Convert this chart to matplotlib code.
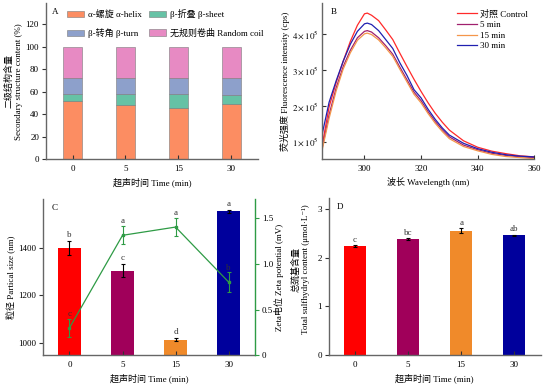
import numpy as np
import matplotlib
matplotlib.use("Agg")
import matplotlib.pyplot as plt

plt.rcParams['font.family'] = ['Liberation Serif', 'Noto Sans CJK SC', 'DejaVu Serif']
plt.rcParams['mathtext.fontset'] = 'stix'
plt.rcParams['font.size'] = 6.5

# ---------------- data ----------------
times = ['0', '5', '15', '30']

# A: secondary structure (%)
helix = [52.0, 48.5, 46.0, 49.5]
sheet = [6.5, 9.5, 12.0, 8.0]
turn = [13.5, 14.5, 14.5, 14.5]
coil = [28.0, 27.5, 27.5, 28.0]

# B: fluorescence spectra (x1e5 cps)
wl = [285, 287.5, 290, 292.5, 295, 297.5, 300, 301, 302.5, 305, 307.5, 310,
      312.5, 315, 317.5, 320, 322.5, 325, 327.5, 330, 335, 340, 345, 350, 355, 360]
fl_control = [0.88, 1.97, 2.65, 3.25, 3.80, 4.25, 4.57, 4.59, 4.53, 4.38, 4.12, 3.85,
              3.47, 3.10, 2.74, 2.40, 2.08, 1.79, 1.54, 1.32, 1.02, 0.84, 0.73, 0.66, 0.60, 0.57]
fl_5 = [0.80, 1.75, 2.50, 3.10, 3.55, 3.90, 4.08, 4.10, 4.06, 3.90, 3.68, 3.44,
        3.08, 2.73, 2.38, 2.14, 1.83, 1.56, 1.33, 1.13, 0.90, 0.77, 0.67, 0.61, 0.57, 0.55]
fl_15 = [0.75, 1.65, 2.42, 3.03, 3.48, 3.83, 4.01, 4.03, 3.99, 3.84, 3.62, 3.38,
         3.02, 2.67, 2.32, 2.08, 1.78, 1.51, 1.28, 1.08, 0.86, 0.74, 0.64, 0.58, 0.55, 0.52]
fl_30 = [1.19, 2.10, 2.70, 3.25, 3.72, 4.08, 4.29, 4.31, 4.27, 4.10, 3.85, 3.60,
         3.20, 2.85, 2.45, 2.22, 1.90, 1.62, 1.38, 1.18, 0.95, 0.80, 0.70, 0.63, 0.59, 0.57]

# C: particle size (nm) and zeta potential (mV)
size = [1397, 1303, 1015, 1552]
size_err = [30, 28, 7, 6]
size_sig = ['b', 'c', 'd', 'a']
zeta = [0.30, 1.31, 1.40, 0.80]
zeta_err = [0.10, 0.10, 0.10, 0.105]
zeta_sig = ['c', 'a', 'a', 'b']

# D: total sulfhydryl content
sh = [2.236, 2.37, 2.55, 2.454]
sh_err = [0.012, 0.02, 0.055, 0.012]
sh_sig = ['c', 'bc', 'a', 'ab']

bar_colors = ['#FF0000', '#A0005A', '#F08A2A', '#00009C']
spine_c = '#666666'

fig = plt.figure(figsize=(5.44, 3.85), dpi=100)
x = np.arange(len(times))


def style(ax, ytick_dir='out'):
    for s in ['top', 'right']:
        ax.spines[s].set_visible(False)
    for s in ['left', 'bottom']:
        ax.spines[s].set_color(spine_c)
        ax.spines[s].set_linewidth(1.0)
    ax.tick_params(axis='x', direction='in', length=3, width=0.8, color='#333333', pad=4)
    ax.tick_params(axis='y', direction=ytick_dir, length=3, width=0.8, color='#333333', pad=2)


# ---------------- A ----------------
axA = fig.add_axes([0.0846, 0.586, 0.3894, 0.406])
w = 0.35
ec = '#7a7a7a'
hA1 = axA.bar(x, helix, w, color='#FC8D62', edgecolor=ec, linewidth=0.4, label='α-螺旋 α-helix')
b1 = np.array(helix)
hA2 = axA.bar(x, sheet, w, bottom=b1, color='#66C2A5', edgecolor=ec, linewidth=0.4, label='β-折叠 β-sheet')
b2 = b1 + np.array(sheet)
hA3 = axA.bar(x, turn, w, bottom=b2, color='#8DA0CB', edgecolor=ec, linewidth=0.4, label='β-转角 β-turn')
b3 = b2 + np.array(turn)
hA4 = axA.bar(x, coil, w, bottom=b3, color='#E78AC3', edgecolor=ec, linewidth=0.4, label='无规则卷曲 Random coil')
axA.set_xlim(-0.5, 3.5)
axA.set_ylim(0, 139)
axA.set_xticks(x)
axA.set_xticklabels(times)
axA.set_yticks(np.arange(0, 121, 20))
style(axA)
axA.set_xlabel('超声时间 Time (min)', labelpad=3)
axA.set_ylabel('二级结构含量\nSecondary structure content (%)', labelpad=2, linespacing=1.2)
axA.text(0.03, 0.93, 'A', transform=axA.transAxes, fontsize=6.5)
# column-wise fill: helix/turn in first column, sheet/coil in second
handles = [hA1, hA3, hA2, hA4]
axA.legend(handles, [h.get_label() for h in handles], loc='upper left',
           bbox_to_anchor=(0.07, 1.0), ncol=2, frameon=False,
           handlelength=1.9, handleheight=0.7, handletextpad=0.4, columnspacing=0.8,
           labelspacing=1.0, fontsize=6.5, borderaxespad=0.3)

# ---------------- B ----------------
axB = fig.add_axes([0.592, 0.586, 0.390, 0.406])
scale = 1e5
axB.plot(wl, np.array(fl_control) * scale, color='#FF2A2A', lw=0.9, label='对照 Control')
axB.plot(wl, np.array(fl_5) * scale, color='#A0206E', lw=0.9, label='5 min')
axB.plot(wl, np.array(fl_15) * scale, color='#F4964A', lw=0.9, label='15 min')
axB.plot(wl, np.array(fl_30) * scale, color='#2020B0', lw=0.9, label='30 min')
axB.set_xlim(285, 360)
axB.set_ylim(0.5e5, 4.87e5)
axB.set_xticks([300, 320, 340, 360])
yt = [1e5, 2e5, 3e5, 4e5]
axB.set_yticks(yt)
axB.set_yticklabels([r'$%d\times10^{5}$' % int(v / 1e5) for v in yt])
style(axB, 'in')
axB.set_xlabel('波长 Wavelength (nm)', labelpad=3)
axB.set_ylabel('荧光强度 Fluorescence intensity (cps)', labelpad=2)
axB.text(0.04, 0.93, 'B', transform=axB.transAxes, fontsize=6.5)
axB.legend(loc='upper right', bbox_to_anchor=(1.0, 1.0), frameon=False, handlelength=2.2,
           handletextpad=0.3, labelspacing=0.25, fontsize=6.5, borderaxespad=0.3)

# ---------------- C ----------------
axC = fig.add_axes([0.079, 0.077, 0.390, 0.407])
wb = 0.42
axC.bar(x, size, wb, color=bar_colors, yerr=size_err, capsize=1.5,
        error_kw=dict(elinewidth=0.8, capthick=0.8, ecolor='black'))
for xi, v, e, s in zip(x, size, size_err, size_sig):
    axC.annotate(s, (xi, v + e), xytext=(0, 1.5), textcoords='offset points',
                 ha='center', va='bottom', fontsize=6.5, color='#333333')
axC.set_xlim(-0.5, 3.5)
axC.set_ylim(950, 1604)
axC.set_xticks(x)
axC.set_xticklabels(times)
axC.set_yticks([1000, 1200, 1400])
style(axC)
axC.set_xlabel('超声时间 Time (min)', labelpad=3)
axC.set_ylabel('粒径 Partical size (nm)', labelpad=2)
axC.text(0.04, 0.93, 'C', transform=axC.transAxes, fontsize=6.5)

green = '#2E9B45'
axC2 = axC.twinx()
axC2.errorbar(x, zeta, yerr=zeta_err, color=green, lw=0.9, marker='s', ms=2,
              capsize=1.5, elinewidth=0.8, capthick=0.8)
for xi, v, e, s in zip(x, zeta, zeta_err, zeta_sig):
    axC2.annotate(s, (xi, v + e), xytext=(0, 0.5), textcoords='offset points',
                  ha='center', va='bottom', fontsize=6.5, color='#333333')
axC2.set_ylim(0, 1.71)
axC2.set_yticks([0, 0.5, 1.0, 1.5])
axC2.set_yticklabels(['0', '0.5', '1.0', '1.5'])
for s in ['top', 'left', 'bottom']:
    axC2.spines[s].set_visible(False)
axC2.spines['right'].set_color(green)
axC2.spines['right'].set_linewidth(1.0)
axC2.tick_params(axis='y', direction='out', length=3, width=0.8, color=green, pad=2)
fig.text(279 / 544, 0.28, 'Zeta电位 Zeta potential (mV)', rotation=90,
         ha='center', va='center', fontsize=6.5)

# ---------------- D ----------------
axD = fig.add_axes([0.604, 0.077, 0.390, 0.409])
axD.bar(x, sh, wb, color=bar_colors, yerr=sh_err, capsize=1.5,
        error_kw=dict(elinewidth=0.8, capthick=0.8, ecolor='black'))
for xi, v, e, s in zip(x, sh, sh_err, sh_sig):
    axD.annotate(s, (xi, v + e), xytext=(0, 1), textcoords='offset points',
                 ha='center', va='bottom', fontsize=6.5, color='#333333')
axD.set_xlim(-0.5, 3.5)
axD.set_ylim(0, 3.22)
axD.set_xticks(x)
axD.set_xticklabels(times)
axD.set_yticks([0, 1, 2, 3])
style(axD)
axD.set_xlabel('超声时间 Time (min)', labelpad=3)
fig.text(301 / 544, 0.30, '总巯基含量\nTotal sulfhydryl content (μmol·L⁻¹)', rotation=90,
         ha='center', va='center', fontsize=6.5, linespacing=1.3, multialignment='center')
axD.text(0.04, 0.93, 'D', transform=axD.transAxes, fontsize=6.5)

fig.savefig('out.png', dpi=100)
